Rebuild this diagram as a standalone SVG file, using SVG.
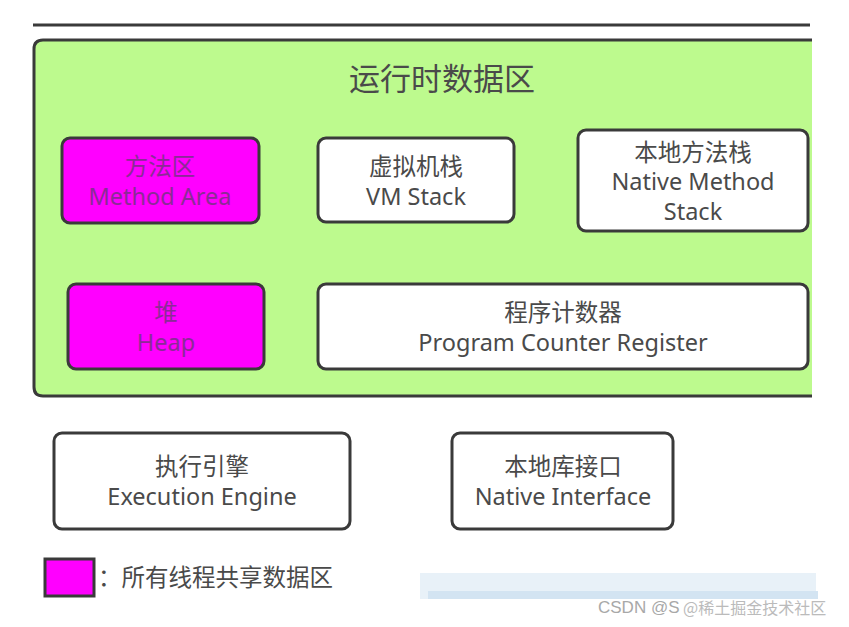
<svg xmlns="http://www.w3.org/2000/svg" width="849" height="627" viewBox="0 0 849 627">
<style>
.box{fill:#ffffff;stroke:#3a3a3a;stroke-width:3}
.shared{fill:#ff00ff;stroke:#3a3a3a;stroke-width:3}
.t{font-family:"Noto Sans","Noto Sans CJK SC",sans-serif;font-size:23.5px;fill:#4a4a4a;text-anchor:middle}
.tm{font-family:"Noto Sans","Noto Sans CJK SC",sans-serif;font-size:23.5px;fill:#8b2b96;text-anchor:middle}
</style>
<rect width="849" height="627" fill="#ffffff"/>
<line x1="33" y1="25" x2="810" y2="25" stroke="#3a3a3a" stroke-width="3"/>
<g id="runtime-area">
<path d="M812,40 H43 Q34,40 34,49 V387 Q34,396 43,396 H812" fill="#bdfa8e" stroke="#3a3a3a" stroke-width="3"/>
<text x="442" y="90" class="t" style="font-size:31px">运行时数据区</text>
</g>
<g id="method-area">
<rect x="62" y="138" width="197" height="85" rx="8" class="shared"/>
<text x="160" y="175" class="tm">方法区</text>
<text x="160" y="205" class="tm">Method Area</text>
</g>
<g id="vm-stack">
<rect x="318" y="138" width="196" height="84" rx="8" class="box"/>
<text x="416" y="175" class="t">虚拟机栈</text>
<text x="416" y="205" class="t">VM Stack</text>
</g>
<g id="native-method-stack">
<rect x="578" y="130" width="230" height="101" rx="8" class="box"/>
<text x="693" y="161" class="t">本地方法栈</text>
<text x="693" y="190" class="t">Native Method</text>
<text x="693" y="220" class="t">Stack</text>
</g>
<g id="heap">
<rect x="68" y="284" width="196" height="85" rx="8" class="shared"/>
<text x="166" y="321" class="tm">堆</text>
<text x="166" y="351" class="tm">Heap</text>
</g>
<g id="program-counter">
<rect x="318" y="284" width="490" height="85" rx="8" class="box"/>
<text x="563" y="321" class="t">程序计数器</text>
<text x="563" y="351" class="t">Program Counter Register</text>
</g>
<g id="execution-engine">
<rect x="54" y="433" width="296" height="96" rx="8" class="box"/>
<text x="202" y="475" class="t">执行引擎</text>
<text x="202" y="505" class="t">Execution Engine</text>
</g>
<g id="native-interface">
<rect x="452" y="433" width="221" height="96" rx="8" class="box"/>
<text x="563" y="475" class="t">本地库接口</text>
<text x="563" y="505" class="t">Native Interface</text>
</g>
<g id="legend">
<rect x="45" y="559" width="49" height="37" class="shared"/>
<text x="98" y="586" class="t" style="text-anchor:start">：所有线程共享数据区</text>
</g>
<g id="connectors"></g>
<g id="watermark">
<rect x="420" y="573" width="396" height="26" fill="#e8f1f8"/>
<rect x="428" y="591" width="390" height="8" fill="#d3e4f2"/>
<text x="598" y="613" style="font-family:'Liberation Sans',sans-serif;font-size:17px;fill:#a8a8a8">CSDN @S</text>
<text x="683" y="614" style="font-family:'Noto Sans CJK SC',sans-serif;font-size:16px;fill:#bbbbbb">@稀土掘金技术社区</text>
</g>
</svg>
